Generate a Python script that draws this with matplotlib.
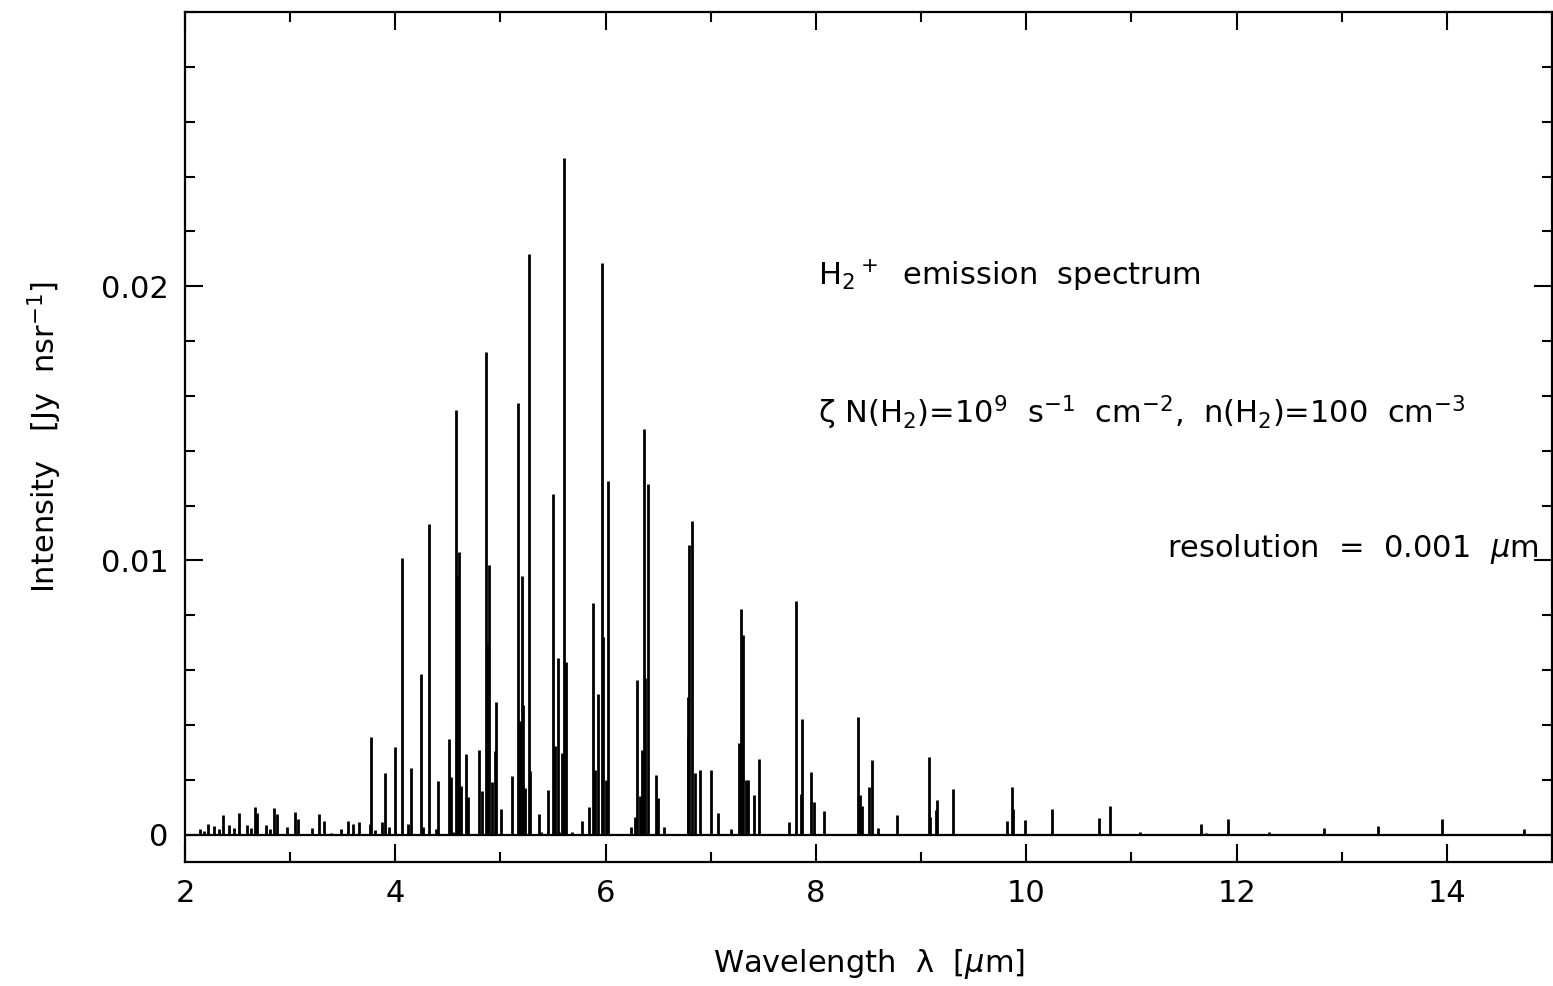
#!/usr/bin/env python3

import numpy as np
import matplotlib
matplotlib.use("Agg")
import matplotlib.pyplot as plt
from matplotlib.ticker import MultipleLocator

# line positions (micron) and peak intensities (Jy nsr^-1)
wavelength = [
    2.143, 2.181, 2.222, 2.279, 2.320, 2.358, 2.421, 2.466, 2.513, 2.587,
    2.630, 2.668, 2.685, 2.767, 2.811, 2.846, 2.872, 2.973, 3.046, 3.077,
    3.208, 3.271, 3.322, 3.385, 3.480, 3.547, 3.600, 3.654, 3.759, 3.769,
    3.807, 3.873, 3.905, 3.937, 4.000,
    4.066, 4.118, 4.146, 4.247, 4.263, 4.317, 4.389, 4.408, 4.510, 4.526,
    4.548, 4.582, 4.593, 4.608, 4.629, 4.669, 4.691, 4.793, 4.829, 4.859,
    4.872, 4.892, 4.917, 4.948, 4.962, 5.008, 5.106, 5.169, 5.185, 5.202,
    5.219, 5.238, 5.268, 5.283, 5.364, 5.390, 5.454, 5.504, 5.516, 5.545,
    5.559, 5.585, 5.604, 5.620, 5.677, 5.772, 5.839, 5.878, 5.901, 5.925,
    5.962, 5.979, 6.000, 6.019, 6.238, 6.279, 6.298, 6.324, 6.342, 6.362,
    6.371, 6.402, 6.476, 6.495, 6.552, 6.780, 6.786, 6.792, 6.817, 6.847,
    6.895, 7.002, 7.065, 7.189, 7.271, 7.289, 7.306, 7.339, 7.353, 7.407,
    7.460, 7.743, 7.807, 7.854, 7.870, 7.955, 7.981, 8.073, 8.396, 8.416,
    8.440, 8.509, 8.529, 8.586, 8.767, 9.071, 9.087, 9.141, 9.153, 9.305,
    9.816, 9.861, 9.870, 9.990, 10.241, 10.688, 10.793, 11.078, 11.661, 11.705,
    11.920, 12.307, 12.827, 13.001, 13.341, 13.743, 13.952, 14.735,
]
intensity = [
    0.00020, 0.00012, 0.00039, 0.00032, 0.00022, 0.00073, 0.00035, 0.00024, 0.00080, 0.00036,
    0.00023, 0.00102, 0.00077, 0.00034, 0.00020, 0.00097, 0.00075, 0.00028, 0.00082, 0.00056,
    0.00024, 0.00075, 0.00050, 0.00005, 0.00019, 0.00048, 0.00038, 0.00046, 0.00039, 0.00355,
    0.00016, 0.00044, 0.00225, 0.00026, 0.00320,
    0.01010, 0.00038, 0.00244, 0.00587, 0.00027, 0.01133, 0.00020, 0.00196, 0.00349, 0.00211,
    0.00010, 0.01549, 0.00945, 0.01029, 0.00178, 0.00293, 0.00137, 0.00308, 0.00160, 0.01760,
    0.00700, 0.00982, 0.00192, 0.00303, 0.00485, 0.00094, 0.00215, 0.01575, 0.00415, 0.00942,
    0.00472, 0.00170, 0.02118, 0.00230, 0.00074, 0.00010, 0.00164, 0.01241, 0.00324, 0.00643,
    0.00010, 0.00296, 0.02468, 0.00630, 0.00008, 0.00048, 0.00099, 0.00843, 0.00234, 0.00513,
    0.02084, 0.00720, 0.00200, 0.01288, 0.00029, 0.00064, 0.00564, 0.00140, 0.00310, 0.01478,
    0.00572, 0.01280, 0.00217, 0.00135, 0.00027, 0.00353, 0.00501, 0.01055, 0.01144, 0.00224,
    0.00234, 0.00234, 0.00080, 0.00019, 0.00335, 0.00823, 0.00728, 0.00200, 0.00200, 0.00144,
    0.00276, 0.00045, 0.00852, 0.00149, 0.00422, 0.00228, 0.00120, 0.00085, 0.00430, 0.00144,
    0.00104, 0.00175, 0.00272, 0.00024, 0.00070, 0.00283, 0.00065, 0.00090, 0.00126, 0.00167,
    0.00050, 0.00175, 0.00092, 0.00053, 0.00092, 0.00059, 0.00103, 0.00011, 0.00039, 0.00005,
    0.00057, 0.00008, 0.00024, 0.00003, 0.00030, 0.00002, 0.00057, 0.00021,
]

plt.rcParams["font.family"] = ["DejaVu Sans"]
plt.rcParams["mathtext.default"] = "regular"

FS = 22

fig = plt.figure(figsize=(15.53, 9.86), dpi=100)
ax = fig.add_axes([0.1191, 0.1258, 0.8803, 0.862])

ax.vlines(wavelength, 0, intensity, color="black", linewidth=2.0)
ax.axhline(0, color="black", linewidth=1.6)

ax.set_xlim(2, 15)
ax.set_ylim(-0.001, 0.03)

ax.xaxis.set_major_locator(MultipleLocator(2))
ax.xaxis.set_minor_locator(MultipleLocator(1))
ax.yaxis.set_minor_locator(MultipleLocator(0.002))
ax.set_yticks([0, 0.01, 0.02])
ax.set_yticklabels(["0", "0.01", "0.02"])

ax.tick_params(which="both", direction="in", top=True, right=True, width=1.5,
               labelsize=FS, pad=12)
ax.tick_params(which="major", length=13)
ax.tick_params(which="minor", length=7)
for sp in ax.spines.values():
    sp.set_linewidth(1.6)

ax.set_xlabel(r"Wavelength  $\lambda$  [$\mathit{\mu}$m]", fontsize=FS, labelpad=28)
ax.set_ylabel(r"Intensity   [Jy  nsr$^{-1}$]", fontsize=FS, labelpad=26)

ax.text(8.02, 0.0204, r"H$_2$$^+$  emission  spectrum", fontsize=FS, va="center")
ax.text(8.02, 0.0154,
        r"$\zeta$ N(H$_2$)=10$^9$  s$^{-1}$  cm$^{-2}$,  n(H$_2$)=100  cm$^{-3}$",
        fontsize=FS, va="center")
ax.text(11.34, 0.0104, r"resolution  =  0.001  $\mathit{\mu}$m", fontsize=FS, va="center")

fig.savefig("out.png", dpi=100)
